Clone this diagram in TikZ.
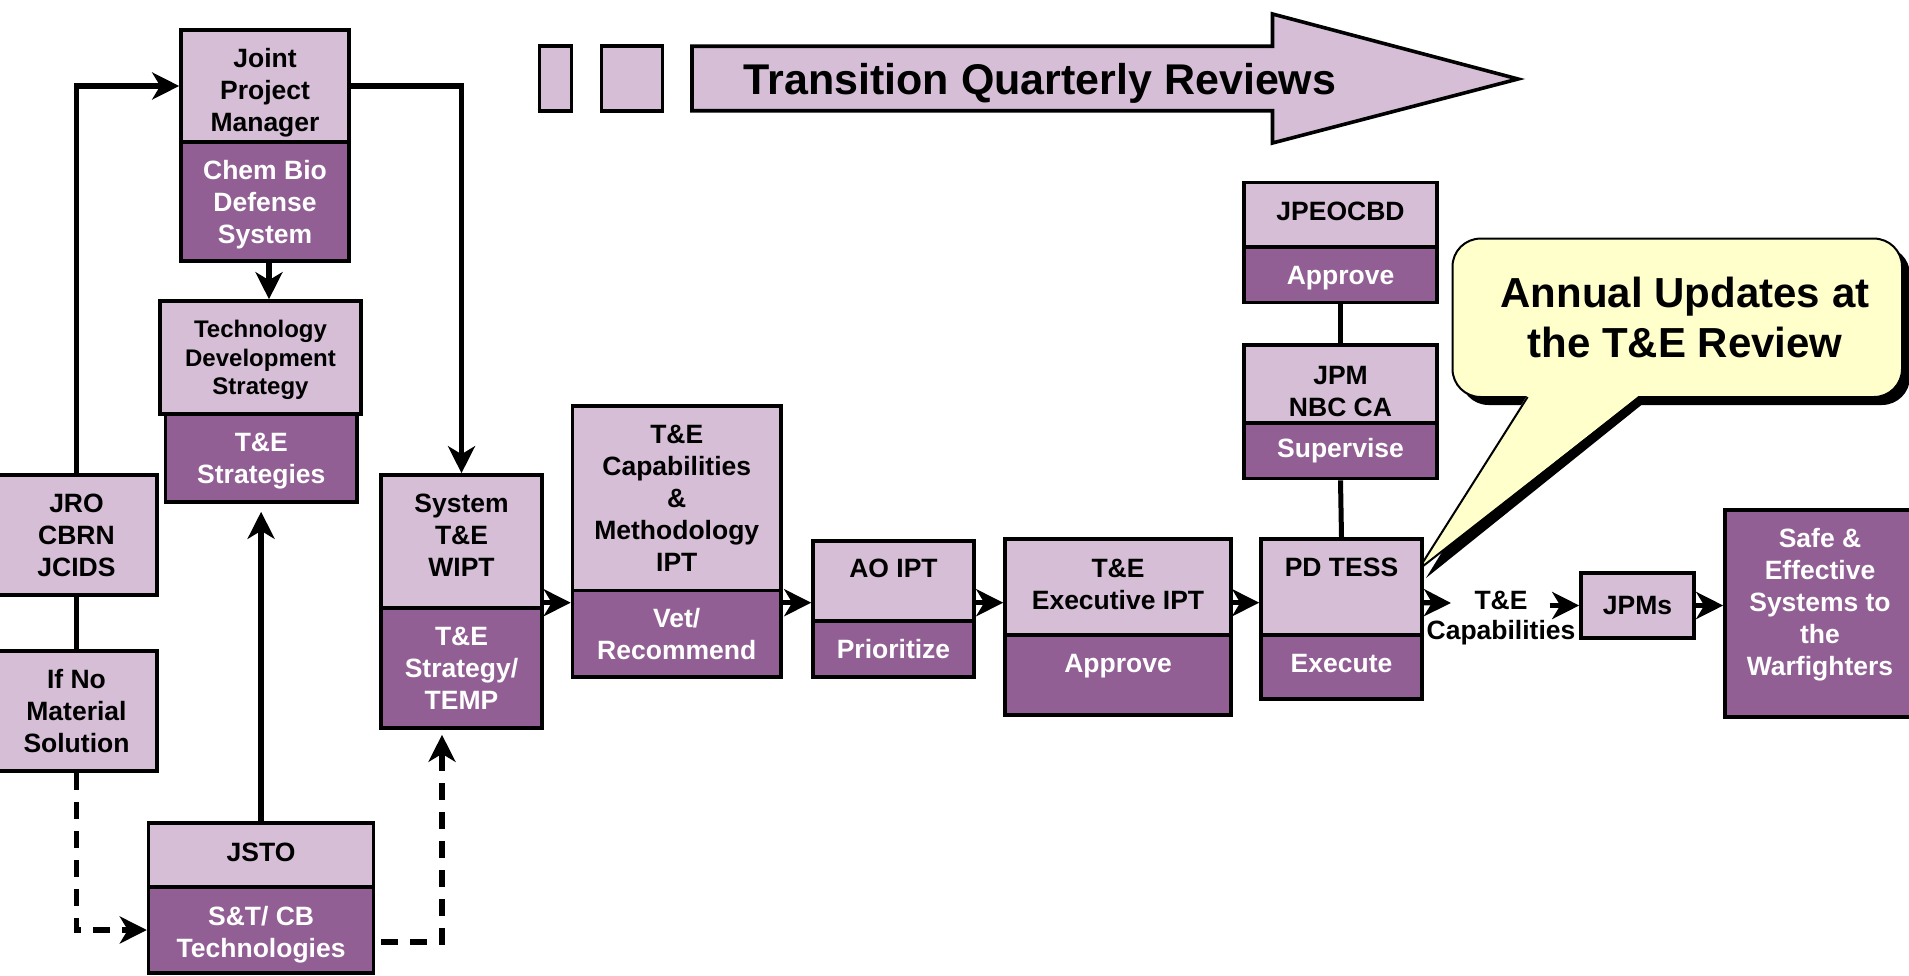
\documentclass[tikz,border=0pt]{standalone}
\usepackage{fontspec}
\setmainfont{Liberation Sans}
\usetikzlibrary{arrows.meta}
\definecolor{lightp}{RGB}{213,190,214}
\definecolor{darkp}{RGB}{145,95,148}
\definecolor{callfill}{RGB}{255,255,204}
\newcommand\bxf{\fontsize{26.5pt}{32pt}\selectfont\bfseries}
\newcommand\tdf{\fontsize{24pt}{28.6pt}\selectfont\bfseries}
\tikzset{
  box/.style={draw=black, line width=3.6pt, align=center, inner sep=2pt, font=\bxf},
  lt/.style={box, fill=lightp, text=black},
  dk/.style={box, fill=darkp, text=white},
  arr/.style={line width=5.4pt, -{Stealth[length=27pt,width=27pt,inset=8pt]}},
  dasharr/.style={arr, dash pattern=on 17pt off 12pt},
  plainline/.style={line width=5pt},
}
\begin{document}
\begin{tikzpicture}[x=1pt,y=-1pt]
\useasboundingbox (0,0) rectangle (1909,976);
\clip (0,0) rectangle (1909,976);
\fill[white] (0,0) rectangle (1909,976);

% ---- top banner arrow
\draw[line width=3.6pt, fill=lightp] (539.5,46.3) rectangle (571.5,110.8);
\draw[line width=3.6pt, fill=lightp] (601.5,46.3) rectangle (662.5,110.8);
\draw[line width=3.6pt, fill=lightp, line join=miter]
  (692,46.3) -- (1272.5,46.3) -- (1272.5,14) -- (1518,79) -- (1272.5,143) -- (1272.5,110.8) -- (692,110.8) -- cycle;
\node[anchor=base, font=\fontsize{43pt}{50pt}\selectfont\bfseries] (tqr) at (1040,95) {Transition Quarterly Reviews};

% ---- callout
\fill[black, rounded corners=28pt] (1460.5,246.6) rectangle (1910,405);
\fill[black] (1535.6,400) -- (1426,578) -- (1647.6,400) -- cycle;
\filldraw[fill=callfill, draw=black, line width=2pt, rounded corners=28pt] (1452.5,238.6) rectangle (1902,397);
\fill[callfill] (1527.6,395) -- (1418,570) -- (1639.6,395) -- cycle;
\draw[line width=2pt, line join=miter] (1527.6,397) -- (1418,570) -- (1639.6,397);
\node[align=center, font=\fontsize{42pt}{50pt}\selectfont\bfseries] (ann) at (1685,317) {Annual Updates at\\the T\&E Review};

% ---- boxes
\node[lt, minimum width=168pt, minimum height=112pt, text height=97pt] (jpmtop) at (265,86) {Joint\\Project\\Manager};
\node[dk, minimum width=168pt, minimum height=119pt, text height=90.5pt] (jpmbot) at (265,201.5) {Chem Bio\\Defense\\System};

\node[lt, font=\tdf, minimum width=201pt, minimum height=113pt, text height=79.5pt] (tds) at (260.5,357.5) {Technology\\Development\\Strategy};
\node[dk, minimum width=191.4pt, minimum height=88pt, text height=56pt] (tes) at (261.3,458) {T\&E\\Strategies};

\node[lt, minimum width=161pt, minimum height=120pt] (jro) at (76.5,535) {JRO\\CBRN\\JCIDS};
\node[lt, minimum width=161pt, minimum height=120pt] (ifno) at (76.5,711) {If No\\Material\\Solution};

\node[lt, minimum width=225pt, minimum height=64pt, text depth=5pt] (jstotop) at (261.1,855) {JSTO};
\node[dk, minimum width=225pt, minimum height=86pt, text height=61.5pt] (jstobot) at (261.1,930) {S\&T/ CB\\Technologies};

\node[lt, minimum width=161pt, minimum height=133pt, text depth=12pt] (systop) at (461.5,541.5) {System\\T\&E\\WIPT};
\node[dk, minimum width=161pt, minimum height=120pt] (sysbot) at (461.5,668) {T\&E\\Strategy/\\TEMP};

\node[lt, minimum width=208.5pt, minimum height=184.5pt] (captop) at (676.75,498.25) {T\&E\\Capabilities\\\&\\Methodology\\IPT};
\node[dk, minimum width=208.5pt, minimum height=86.5pt] (capbot) at (676.75,633.75) {Vet/\\Recommend};

\node[lt, minimum width=161pt, minimum height=80pt, text depth=25pt] (aotop) at (893.5,581) {AO IPT};
\node[dk, minimum width=161pt, minimum height=56pt] (aobot) at (893.5,649) {Prioritize};

\node[lt, minimum width=226pt, minimum height=96pt, text depth=6pt] (exectop) at (1118,587) {T\&E\\Executive IPT};
\node[dk, minimum width=226pt, minimum height=80pt, text depth=23pt] (execbot) at (1118,675) {Approve};

\node[lt, minimum width=161pt, minimum height=96pt, text depth=39pt] (pdtop) at (1341.5,587) {PD TESS};
\node[dk, minimum width=161pt, minimum height=64pt, text depth=7pt] (pdbot) at (1341.5,667) {Execute};

\node[lt, minimum width=193pt, minimum height=64.5pt, text depth=7pt] (jpeotop) at (1340.5,214.75) {JPEOCBD};
\node[dk, minimum width=193pt, minimum height=55.5pt, text height=26pt] (jpeobot) at (1340.5,274.75) {Approve};

\node[lt, minimum width=193pt, minimum height=78pt, text height=65pt] (nbctop) at (1340.5,384) {JPM\\NBC CA};
\node[dk, minimum width=193pt, minimum height=55.5pt] (nbcbot) at (1340.5,450.75) {Supervise};

\node[lt, minimum width=113pt, minimum height=65pt] (jpms) at (1637.5,605.5) {JPMs};
\node[dk, minimum width=190pt, minimum height=207pt, text depth=24pt] (safe) at (1820,613.5) {Safe \&\\Effective\\Systems to\\the\\Warfighters};

\node[align=center, font=\fontsize{26.5pt}{30pt}\selectfont\bfseries] (tecap) at (1501,618) {T\&E\\Capabilities};

% ---- connectors
\coordinate (row) at (0,602.7);
\coordinate (dcorner) at (442,942);
\coordinate (lin) at (1451,603);
\coordinate (lout) at (1549.5,605.5);

\draw[arr] (jro.north) |- (jpmtop.west);
\draw[arr] (jpmtop.east) -| (systop.north);
\draw[arr] ([xshift=4pt]jpmbot.south) -- ([xshift=4pt]jpmbot.south |- tds.north);
\draw[arr, shorten >=8pt] (jstotop.north) -- (jstotop.north |- tes.south);
\draw[plainline] (jro.south) -- (ifno.north);
\draw[dasharr] (ifno.south) |- (jstobot.west);
\draw[dasharr, shorten <=6pt, shorten >=5pt] (jstobot.east |- dcorner) -- (dcorner) -- (dcorner |- sysbot.south);

\draw[arr] (systop.east |- row) -- (captop.west |- row);
\draw[arr] (captop.east |- row) -- (aotop.west |- row);
\draw[arr] (aotop.east |- row) -- (exectop.west |- row);
\draw[arr] (exectop.east |- row) -- (pdtop.west |- row);
\draw[arr] (pdtop.east |- row) -- (lin);
\draw[arr] (lout) -- (jpms.west);
\draw[arr] (jpms.east) -- (safe.west |- jpms.east);

\draw[plainline] (jpeobot.south) -- (nbctop.north);
\draw[plainline] (nbcbot.south) -- (pdtop.north);
\end{tikzpicture}
\end{document}
